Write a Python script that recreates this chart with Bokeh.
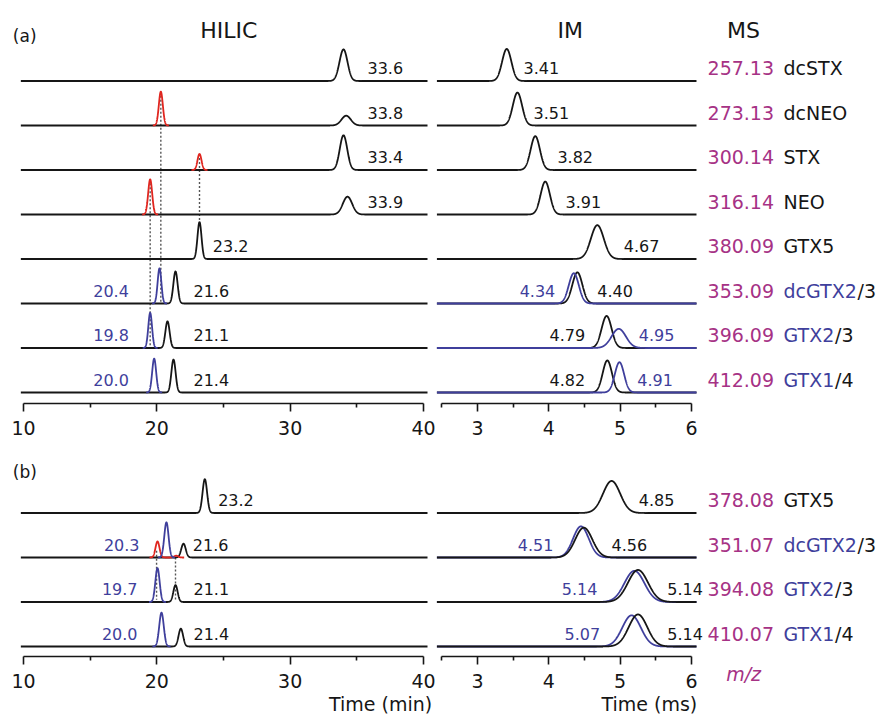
import numpy as np
from bokeh.plotting import figure
from bokeh.layouts import column, row
from bokeh.models import Range1d, FixedTicker
from bokeh.core.properties import value
from bokeh.embed import file_html
from bokeh.resources import INLINE

# ---------------- data ----------------
# (a) HILIC peaks: row index (0 = top), colour, centre (min), height (row units), width (min)
HA_ROW    = [0, 1, 1, 2, 2, 3, 3, 4, 5, 5, 6, 6, 7, 7]
HA_COLOR  = ["k", "r", "k", "r", "k", "r", "k", "k", "b", "k", "b", "k", "b", "k"]
HA_CENTER = [34.0, 20.3, 34.2, 23.2, 34.0, 19.5, 34.3, 23.2, 20.2, 21.4, 19.5, 20.8, 19.8, 21.25]
HA_HEIGHT = [0.71, 0.76, 0.22, 0.36, 0.78, 0.79, 0.40, 0.83, 0.79, 0.72, 0.79, 0.60, 0.76, 0.74]
HA_SIGMA  = [0.30, 0.15, 0.35, 0.15, 0.28, 0.15, 0.35, 0.15, 0.14, 0.16, 0.14, 0.16, 0.15, 0.16]

# (a) IM peaks (ms)
IA_ROW    = [0, 1, 2, 3, 4, 5, 5, 6, 6, 7, 7]
IA_COLOR  = ["k", "k", "k", "k", "k", "k", "b", "k", "b", "k", "b"]
IA_CENTER = [3.41, 3.56, 3.81, 3.95, 4.68, 4.40, 4.35, 4.81, 4.98, 4.82, 4.99]
IA_HEIGHT = [0.72, 0.74, 0.76, 0.74, 0.76, 0.70, 0.68, 0.72, 0.43, 0.72, 0.68]
IA_SIGMA  = [0.065, 0.065, 0.065, 0.065, 0.09, 0.07, 0.07, 0.07, 0.10, 0.065, 0.065]

# (b) HILIC peaks
HB_ROW    = [0, 1, 1, 1, 1, 2, 2, 3, 3]
HB_COLOR  = ["k", "r", "r", "b", "k", "b", "k", "b", "k"]
HB_CENTER = [23.6, 20.05, 21.45, 20.72, 22.0, 20.05, 21.4, 20.35, 21.8]
HB_HEIGHT = [0.76, 0.36, 0.04, 0.79, 0.31, 0.76, 0.38, 0.76, 0.40]
HB_SIGMA  = [0.17, 0.15, 0.15, 0.16, 0.17, 0.16, 0.16, 0.17, 0.17]

# (b) IM peaks
IB_ROW    = [0, 1, 1, 2, 2, 3, 3]
IB_COLOR  = ["k", "b", "k", "b", "k", "b", "k"]
IB_CENTER = [4.88, 4.45, 4.49, 5.20, 5.25, 5.16, 5.25]
IB_HEIGHT = [0.72, 0.70, 0.67, 0.70, 0.72, 0.70, 0.72]
IB_SIGMA  = [0.12, 0.11, 0.12, 0.14, 0.14, 0.13, 0.13]

# peak value labels
HA_LAB_TEXT  = ["33.6", "33.8", "33.4", "33.9", "23.2", "20.4", "21.6", "19.8", "21.1", "20.0", "21.4"]
HA_LAB_ROW   = [0, 1, 2, 3, 4, 5, 5, 6, 6, 7, 7]
HA_LAB_COLOR = ["k", "k", "k", "k", "k", "b", "k", "b", "k", "b", "k"]
IA_LAB_TEXT  = ["3.41", "3.51", "3.82", "3.91", "4.67", "4.34", "4.40", "4.79", "4.95", "4.82", "4.91"]
IA_LAB_ROW   = [0, 1, 2, 3, 4, 5, 5, 6, 6, 7, 7]
IA_LAB_COLOR = ["k", "k", "k", "k", "k", "b", "k", "k", "b", "k", "b"]
HB_LAB_TEXT  = ["23.2", "20.3", "21.6", "19.7", "21.1", "20.0", "21.4"]
HB_LAB_ROW   = [0, 1, 1, 2, 2, 3, 3]
HB_LAB_COLOR = ["k", "b", "k", "b", "k", "b", "k"]
IB_LAB_TEXT  = ["4.85", "4.51", "4.56", "5.14", "5.14", "5.07", "5.14"]
IB_LAB_ROW   = [0, 1, 1, 2, 2, 3, 3]
IB_LAB_COLOR = ["k", "b", "k", "b", "k", "b", "k"]

# MS column
MZ_A     = ["257.13", "273.13", "300.14", "316.14", "380.09", "353.09", "396.09", "412.09"]
NAME_A   = ["dcSTX", "dcNEO", "STX", "NEO", "GTX5", "dcGTX2", "GTX2", "GTX1"]
SUFFIX_A = ["", "", "", "", "", "/3", "/3", "/4"]
NCOL_A   = ["k", "k", "k", "k", "k", "b", "b", "b"]
MZ_B     = ["378.08", "351.07", "394.08", "410.07"]
NAME_B   = ["GTX5", "dcGTX2", "GTX2", "GTX1"]
SUFFIX_B = ["", "/3", "/3", "/4"]
NCOL_B   = ["k", "b", "b", "b"]

# axes
HILIC_TICKS = [10, 20, 30, 40]
HILIC_MINOR = [15, 25, 35]
IM_TICKS = [3, 4, 5, 6]
IM_MINOR = [2.5, 3.5, 4.5, 5.5]

# ---------------- layout / style (not data) ----------------
FONT = "DejaVu Sans"
BLACK = "#161616"
BLUE = "#3f3f9c"
RED = "#e0261f"
MAGENTA = "#a63285"
DOT = "#555555"
COL = {"k": BLACK, "b": BLUE, "r": RED}

HA_LAB_X = [35.8, 35.8, 35.8, 35.8, 24.2, 17.9, 22.75, 17.9, 22.75, 17.9, 22.75]
HA_LAB_AL = ["left"] * 5 + ["right", "left"] * 3
IA_LAB_X = [3.645, 3.785, 4.12, 4.235, 5.05, 4.09, 4.68, 4.51, 5.26, 4.51, 5.24]
IA_LAB_AL = ["left"] * 5 + ["right", "left"] * 3
HB_LAB_X = [24.6, 18.7, 22.7, 18.55, 22.75, 18.55, 22.75]
HB_LAB_AL = ["left"] + ["right", "left"] * 3
IB_LAB_X = [5.26, 4.065, 4.88, 4.68, 5.66, 4.72, 5.66]
IB_LAB_AL = ["left"] + ["right", "left"] * 3

LAB_DY = 0.29
HILIC_SPAN = (9.8, 40.3)
IM_SPAN = (2.43, 6.07)
MZ_X = 6.225
NAME_X = 7.29
MS_FS = 19


def char_w(s):
    w = {"d": 0.6348, "c": 0.5498, "G": 0.7778, "T": 0.6108, "X": 0.6851,
         "1": 0.6362, "2": 0.6362}
    return sum(w.get(ch, 0.6) for ch in s)


def make_fig(xr, yr, fw, fh):
    p = figure(frame_width=fw, frame_height=fh, x_range=xr, y_range=yr,
               output_backend="svg", toolbar_location=None, y_axis_location=None,
               min_border_left=0, min_border_right=0, min_border_top=0,
               min_border_bottom=0, outline_line_color=None,
               background_fill_color="white", border_fill_color="white")
    p.xgrid.visible = False
    p.ygrid.visible = False
    return p


def style_axis(p, ticks, minor, bounds, loc):
    ax = p.xaxis[0]
    ax.fixed_location = loc
    ax.ticker = FixedTicker(ticks=ticks, minor_ticks=minor)
    ax.bounds = bounds
    ax.axis_line_color = BLACK
    ax.axis_line_width = 1.6
    ax.major_tick_line_color = BLACK
    ax.major_tick_line_width = 1.6
    ax.major_tick_in = 0
    ax.major_tick_out = 8
    ax.minor_tick_line_color = BLACK
    ax.minor_tick_line_width = 1.6
    ax.minor_tick_in = 0
    ax.minor_tick_out = 4
    ax.major_label_standoff = 9
    ax.major_label_text_font = FONT
    ax.major_label_text_font_size = "19px"
    ax.major_label_text_color = BLACK


def gsum(x, idx, centers, heights, sigmas):
    y = np.zeros_like(x)
    for i in idx:
        y += heights[i] * np.exp(-0.5 * ((x - centers[i]) / sigmas[i]) ** 2)
    return y


def draw_traces(p, nrows, rows, colors, centers, heights, sigmas, span, order, full):
    for r in range(nrows):
        base = nrows - 1 - r
        for c in order:
            idx = [i for i in range(len(rows)) if rows[i] == r and colors[i] == c]
            if c != "k" and not idx:
                continue
            if c == "k" or c in full:
                x = np.linspace(span[0], span[1], 2500)
            else:
                lo = min(centers[i] - 4 * sigmas[i] for i in idx)
                hi = max(centers[i] + 4 * sigmas[i] for i in idx)
                x = np.linspace(lo, hi, 400)
            y = base + gsum(x, idx, centers, heights, sigmas)
            p.line(x, y, line_color=COL[c], line_width=1.8)


def draw_labels(p, nrows, texts, rows, xs, cols, aligns, size="16px"):
    for al in ("left", "right"):
        ii = [i for i in range(len(texts)) if aligns[i] == al]
        if not ii:
            continue
        p.text(x=[xs[i] for i in ii],
               y=[nrows - 1 - rows[i] + LAB_DY for i in ii],
               text=[texts[i] for i in ii],
               text_color=[COL[cols[i]] for i in ii],
               text_align=al, text_baseline="middle",
               text_font=value(FONT), text_font_size=size)


def draw_ms(p, nrows, mz, names, suffix, ncol):
    ys = [nrows - 1 - r + LAB_DY for r in range(nrows)]
    fs = f"{MS_FS}px"
    p.text(x=[MZ_X] * nrows, y=ys, text=mz, text_color=MAGENTA,
           text_align="left", text_baseline="middle",
           text_font=value(FONT), text_font_size=fs)
    p.text(x=[NAME_X] * nrows, y=ys, text=names,
           text_color=[COL[c] for c in ncol],
           text_align="left", text_baseline="middle",
           text_font=value(FONT), text_font_size=fs)
    for r in range(nrows):
        if suffix[r]:
            p.text(x=[NAME_X], y=[ys[r]], text=[suffix[r]], text_color=BLACK,
                   x_offset=char_w(names[r]) * MS_FS,
                   text_align="left", text_baseline="middle",
                   text_font=value(FONT), text_font_size=fs)


def head(p, x, y, t, size, align="center", color=BLACK, style="normal"):
    p.text(x=[x], y=[y], text=[t], text_color=color, text_align=align,
           text_baseline="middle", text_font=value(FONT), text_font_size=size,
           text_font_style=style)


# ---------------- figures ----------------
HW, IW = 436, 448
TOP_H, BOT_H = 438, 276
HX = Range1d(8.275, 40.975)
IX = Range1d(2.4252, 8.7056)

ha = make_fig(HX, Range1d(-1.0337, 8.809), HW, TOP_H)
ia = make_fig(IX, Range1d(-1.0337, 8.809), IW, TOP_H)
hb = make_fig(Range1d(8.275, 40.975), Range1d(-1.528, 4.674), HW, BOT_H)
ib = make_fig(Range1d(2.4252, 8.7056), Range1d(-1.528, 4.674), IW, BOT_H)

style_axis(ha, HILIC_TICKS, HILIC_MINOR, (10, 40), -0.2472)
style_axis(hb, HILIC_TICKS, HILIC_MINOR, (10, 40), -0.2247)
style_axis(ia, IM_TICKS, IM_MINOR, (2.5, 6), -0.2472)
style_axis(ib, IM_TICKS, IM_MINOR, (2.5, 6), -0.2247)

# dotted guide lines
ha.segment(x0=[20.3, 23.2, 19.5], y0=[6.76, 5.36, 4.79],
           x1=[20.3, 23.2, 19.5], y1=[2.0, 3.83, 1.0],
           line_color=DOT, line_width=1.4, line_dash="2 2")
hb.segment(x0=[19.98, 21.4], y0=[2.15, 2.0], x1=[19.98, 21.4], y1=[1.05, 1.05],
           line_color=DOT, line_width=1.4, line_dash="2 2")

draw_traces(ha, 8, HA_ROW, HA_COLOR, HA_CENTER, HA_HEIGHT, HA_SIGMA, HILIC_SPAN, ["k", "r", "b"], set())
draw_traces(ia, 8, IA_ROW, IA_COLOR, IA_CENTER, IA_HEIGHT, IA_SIGMA, IM_SPAN, ["k", "b"], {"b"})
draw_traces(hb, 4, HB_ROW, HB_COLOR, HB_CENTER, HB_HEIGHT, HB_SIGMA, HILIC_SPAN, ["k", "r", "b"], set())
draw_traces(ib, 4, IB_ROW, IB_COLOR, IB_CENTER, IB_HEIGHT, IB_SIGMA, IM_SPAN, ["b", "k"], {"b"})

draw_labels(ha, 8, HA_LAB_TEXT, HA_LAB_ROW, HA_LAB_X, HA_LAB_COLOR, HA_LAB_AL)
draw_labels(ia, 8, IA_LAB_TEXT, IA_LAB_ROW, IA_LAB_X, IA_LAB_COLOR, IA_LAB_AL)
draw_labels(hb, 4, HB_LAB_TEXT, HB_LAB_ROW, HB_LAB_X, HB_LAB_COLOR, HB_LAB_AL)
draw_labels(ib, 4, IB_LAB_TEXT, IB_LAB_ROW, IB_LAB_X, IB_LAB_COLOR, IB_LAB_AL)

draw_ms(ia, 8, MZ_A, NAME_A, SUFFIX_A, NCOL_A)
draw_ms(ib, 4, MZ_B, NAME_B, SUFFIX_B, NCOL_B)

head(ha, 9.2, 8.02, "(a)", "17px", "left")
head(ha, 25.4, 8.135, "HILIC", "22px")
head(ia, 4.30, 8.135, "IM", "22px")
head(ia, 6.73, 8.135, "MS", "22px")
head(hb, 9.2, 3.91, "(b)", "17px", "left")
head(hb, 40.65, -1.303, "Time (min)", "19px", "right")
head(ib, 6.08, -1.303, "Time (ms)", "19px", "right")
head(ib, 6.73, -0.607, "m/z", "19px", "center", MAGENTA, "italic")

layout = column(row(ha, ia), row(hb, ib))
open("out.html", "w").write(file_html(layout, INLINE))
